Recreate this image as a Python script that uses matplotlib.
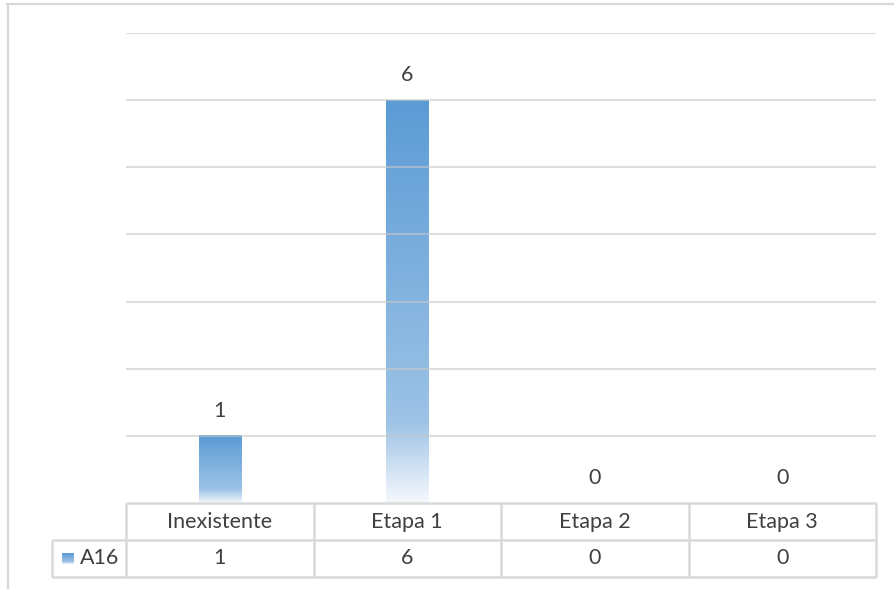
import numpy as np
import matplotlib.pyplot as plt
from matplotlib.colors import LinearSegmentedColormap
from matplotlib.transforms import blended_transform_factory
from matplotlib.lines import Line2D

categories = ['Inexistente', 'Etapa 1', 'Etapa 2', 'Etapa 3']
values = [1, 6, 0, 0]
series_name = 'A16'

plt.rcParams['font.family'] = ['Lato', 'DejaVu Sans']
txt_color = '#404040'
line_color = '#d9d9d9'
fs = 15.5

W, H = 894, 589
fig = plt.figure(figsize=(W / 100, H / 100), dpi=100)
ax = fig.add_axes([126 / W, 1 - 503 / H, 750 / W, 470 / H])

# degradado tipo Excel: azul arriba, casi blanco abajo
cmap = LinearSegmentedColormap.from_list(
    'bar', [(0, '#f5f8fc'), (0.2, '#9dc3e6'), (1, '#5b9bd5')])
grad = np.linspace(1, 0, 256).reshape(-1, 1)

x = np.arange(len(categories))
bars = ax.bar(x, values, width=0.225, color='none', zorder=2)
for b in bars:
    h = b.get_height()
    if h > 0:
        ax.imshow(grad, extent=[b.get_x(), b.get_x() + b.get_width(), 0, h],
                  aspect='auto', cmap=cmap, vmin=0, vmax=1, zorder=2)

for v in range(1, 8):
    ax.axhline(v, color='#c8c8c8', lw=1.5, alpha=0.6, zorder=3)

for xi, v in zip(x, values):
    ax.annotate(str(v), (xi, v), xytext=(0, 18), textcoords='offset points',
                ha='center', va='center', fontsize=fs, color=txt_color)

ax.set_xlim(-0.5, len(categories) - 0.5)
ax.set_ylim(0, 7)
ax.set_xticks([])
ax.set_yticks([])
for s in ax.spines.values():
    s.set_visible(False)

# tabla de datos debajo del eje
trans = blended_transform_factory(ax.transData, ax.transAxes)
row_h = 37 / 470
leg_x = -74 / 750
edges = np.arange(len(categories) + 1) - 0.5
kw = dict(color=line_color, lw=1.8, clip_on=False, solid_capstyle='butt')

ax.plot([edges[0], edges[-1]], [0, 0], transform=trans, **kw)
ax.plot([leg_x, 1], [-row_h, -row_h], transform=ax.transAxes, **kw)
ax.plot([leg_x, 1], [-2 * row_h, -2 * row_h], transform=ax.transAxes, **kw)
ax.plot([leg_x, leg_x], [-row_h, -2 * row_h], transform=ax.transAxes, **kw)
for e in edges:
    ax.plot([e, e], [0, -2 * row_h], transform=trans, **kw)

for xi, c, v in zip(x, categories, values):
    ax.text(xi, -row_h / 2, c, transform=trans, ha='center', va='center',
            fontsize=fs, color=txt_color)
    ax.text(xi, -1.5 * row_h, str(v), transform=trans, ha='center', va='center',
            fontsize=fs, color=txt_color)

# leyenda dentro de la tabla
ax.imshow(grad, extent=[-64 / 750, -52 / 750, -61 / 470, -50 / 470],
          transform=ax.transAxes, aspect='auto', cmap=cmap, vmin=0, vmax=1,
          clip_on=False)
ax.text(-46 / 750, -1.5 * row_h, series_name, transform=ax.transAxes,
        ha='left', va='center', fontsize=fs, color=txt_color)

ax.set_xlim(-0.5, len(categories) - 0.5)
ax.set_ylim(0, 7)

# marco exterior
fig.add_artist(Line2D([7 / W, 1], [1 - 3.5 / H, 1 - 3.5 / H], color=line_color, lw=1.6))
fig.add_artist(Line2D([7.5 / W, 7.5 / W], [0, 1 - 3.5 / H], color=line_color, lw=1.6))

fig.savefig('out.png', dpi=100)
